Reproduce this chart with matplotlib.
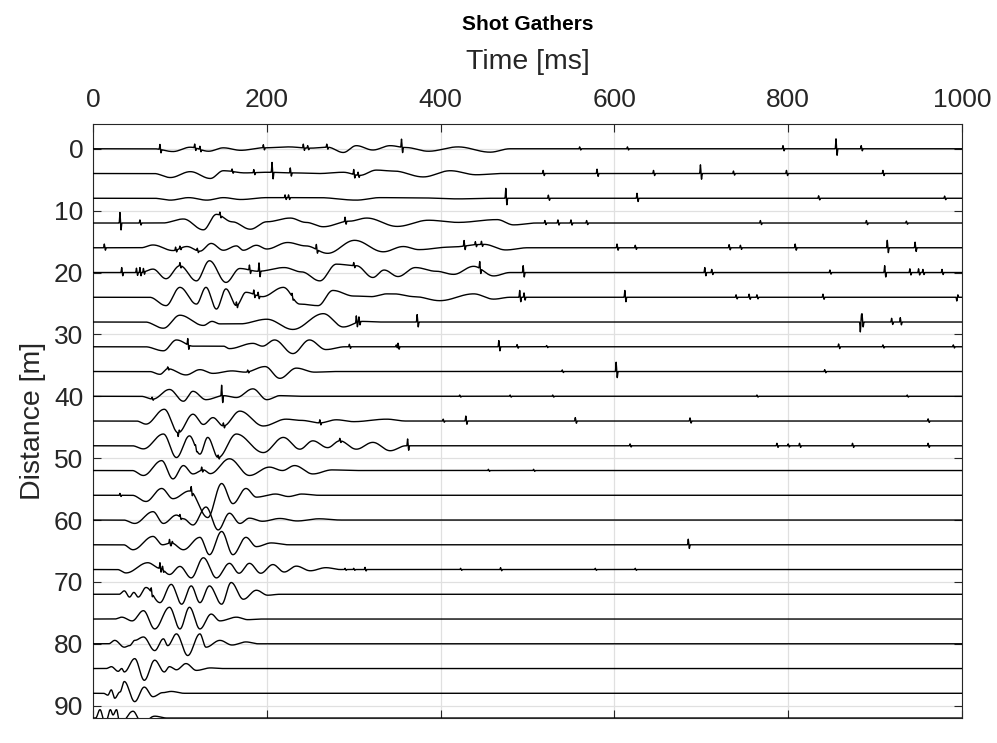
import numpy as np
import matplotlib
matplotlib.use("Agg")
import matplotlib.pyplot as plt

plt.rcParams['font.family'] = ['Liberation Sans', 'DejaVu Sans']

# receiver offsets [m]
distances = [0, 4, 8, 12, 16, 20, 24, 28, 32, 36, 40, 44,
             48, 52, 56, 60, 64, 68, 72, 76, 80, 84, 88, 92]

# smooth wave extrema per trace: (time ms, amplitude m, + is up on screen)
waves_00 = [(70, 0), (92, -0.45), (112, 0.25), (133, -0.4), (150, 0.15), (170, -0.25), (196, 0.15),
            (225, 0.3), (250, 0.1), (270, 0.25), (288, -0.6), (303, 0.5), (322, -0.2), (342, 0.5),
            (360, 0.2), (386, -0.4), (420, 0.3), (457, -0.55), (480, 0)]
waves_04 = [(70, 0), (89, -0.65), (112, 0.3), (135, -0.8), (150, 0.45), (175, 0.1), (200, 0.2),
            (230, 0.1), (260, 0), (288, 0.2), (307, -0.3), (326, 0.55), (346, 0.4), (380, -0.55),
            (411, 0.45), (441, -0.2), (470, 0)]
waves_08 = [(70, 0), (89, -0.3), (110, 0.1), (131, -0.3), (150, 0.1), (170, -0.2), (200, 0.1),
            (260, 0.1), (303, -0.3), (330, 0.1), (380, 0.05), (420, -0.1), (460, 0)]
waves_12 = [(80, 0), (104, 0.65), (127, -1.1), (142, 1.4), (160, 0.2), (181, -1.0), (200, 0.2),
            (227, 0.8), (245, 0.1), (265, -0.6), (295, 0.3), (315, 0.8), (350, -0.55), (386, 0.45),
            (420, 0.1), (465, 0.55), (484, -0.3), (510, 0)]
waves_16 = [(55, 0), (69, 0.45), (92, -0.45), (108, 0.2), (123, -0.55), (136, 0.7), (150, -0.4),
            (165, 0.3), (173, -0.4), (188, 0.4), (200, -0.2), (224, 0.85), (245, 0.3), (270, -0.9),
            (301, 1.2), (334, -0.65), (357, 0.2), (375, -0.3), (410, 0.1), (450, 0.55), (475, -0.35),
            (500, 0)]
waves_20 = [(55, 0), (69, 0.55), (84, -1.0), (100, 1.1), (119, -1.35), (134, 1.9), (153, -1.6),
            (169, 0.65), (190, 0.2), (220, 0.8), (240, 0.1), (261, -1.35), (280, 1.35), (303, 1.1),
            (322, -0.8), (335, 0.4), (351, -0.65), (371, 0.8), (395, 0.2), (415, -0.3), (438, 1.0),
            (461, -0.55), (480, 0)]
waves_24 = [(65, 0), (84, -1.35), (100, 1.6), (119, -1.1), (130, 1.6), (142, -1.9), (153, 1.35),
            (165, -1.35), (176, 0.8), (195, 0.1), (219, 1.6), (238, -1.1), (259, -1.35), (276, 1.1),
            (300, 0.2), (320, 0.1), (338, 0.55), (346, 0.55), (370, 0.1), (399, -0.55), (438, 0.55),
            (461, -0.3), (480, 0)]
waves_28 = [(60, 0), (81, -1.0), (100, 1.1), (127, -0.55), (137, 0.1), (146, -0.3), (169, -0.3),
            (200, 0.45), (230, -1.2), (265, 1.35), (288, -0.8), (310, 0.1), (330, 0)]
waves_32 = [(60, 0), (81, -0.65), (96, 1.1), (115, 0.1), (150, 0.1), (157, -0.3), (184, 0.55),
            (195, 0.1), (209, 1.1), (230, -1.1), (249, 1.1), (268, -0.45), (290, 0)]
waves_36 = [(65, 0), (77, -0.45), (86, 0.45), (107, -0.55), (123, 0.3), (138, -0.3), (160, 0.1),
            (175, -0.1), (198, 0.8), (215, -1.1), (234, 0.55), (255, -0.1), (280, 0)]
waves_40 = [(55, 0), (69, -0.45), (88, 1.1), (104, -0.8), (115, 0.8), (130, -0.55), (150, 0.1),
            (165, -0.2), (184, 1.2), (200, -0.55), (215, 0.1), (240, 0)]
waves_44 = [(50, 0), (61, -0.5), (82, 1.9), (98, -1.9), (115, 1.1), (127, -0.55), (138, 0.55),
            (150, -0.8), (169, 1.6), (196, -0.8), (222, 0.3), (240, 0.1), (261, -0.3), (280, 0.2),
            (300, -0.1), (338, 0.3), (360, 0)]
waves_48 = [(45, 0), (58, -0.5), (81, 1.9), (96, -1.9), (111, 1.6), (123, -1.35), (132, 1.35),
            (144, -1.9), (165, 1.9), (196, -1.1), (219, 1.35), (238, -0.55), (253, 0.8), (270, -0.3),
            (284, 0.8), (303, -0.55), (322, 0.55), (342, -0.8), (360, 0)]
waves_52 = [(45, 0), (58, -0.8), (79, 1.6), (92, -1.35), (104, 0.8), (115, -0.55), (127, 0.1),
            (135, -0.5), (157, 1.9), (180, -0.8), (203, 0.55), (218, 0), (232, 0.8), (253, -0.55),
            (275, 0.1), (300, 0)]
waves_56 = [(45, 0), (61, -1.0), (79, 1.1), (92, -0.55), (111, 0.7), (132, -3.6), (148, 1.9),
            (161, -1.35), (176, 1.1), (188, -0.3), (210, 0.2), (225, -0.2), (240, 0.2), (260, 0)]
waves_60 = [(35, 0), (48, -0.55), (69, 1.35), (81, -0.55), (96, 0.8), (104, 0.2), (115, -0.8),
            (130, 2.1), (144, -1.6), (157, 1.1), (169, -0.55), (180, 0.3), (195, -0.2), (215, 0.25),
            (235, -0.15), (260, 0.2), (285, 0)]
waves_64 = [(35, 0), (46, -0.8), (69, 1.35), (80, 0), (90, 0.3), (104, -0.8), (123, 1.2),
            (134, -1.6), (148, 2.15), (161, -1.6), (176, 1.2), (188, -0.3), (205, 0.3), (225, 0)]
waves_68 = [(28, 0), (38, -0.55), (63, 1.1), (77, 0.2), (88, -0.8), (100, 0.5), (113, -1.35),
            (127, 1.9), (142, -1.35), (157, 1.0), (168, -0.6), (180, 1.0), (193, -0.6), (207, 0.8),
            (220, -0.4), (234, 0.55), (250, -0.2), (268, 0.3), (285, 0)]
waves_72 = [(30, 0), (36, 0.55), (42, -0.45), (47, 0.3), (52, -0.45), (61, 1.1), (77, -1.35),
            (90, 1.6), (102, -1.6), (113, 1.35), (123, -1.35), (134, 1.35), (148, -1.6), (159, 1.9),
            (173, -0.8), (188, 0.65), (201, -0.15), (215, 0)]
waves_76 = [(25, 0), (33, 0.3), (45, -0.3), (58, 1.35), (71, -1.6), (88, 1.9), (100, -1.6),
            (111, 1.9), (123, -1.6), (136, 0.8), (146, -0.3), (165, 0.3), (178, -0.1), (195, 0)]
waves_80 = [(18, 0), (25, 0.55), (36, -0.55), (42, -0.3), (48, 0.55), (58, 1.1), (71, -1.1),
            (81, 0.8), (86, -0.3), (96, 1.6), (109, -1.9), (123, 1.6), (130, -0.55), (146, 0.55),
            (160, -0.2), (176, 0.3), (190, 0)]
waves_84 = [(15, 0), (21, 0.3), (29, -0.45), (33, 0), (36, -0.55), (48, 1.6), (59, -1.9),
            (71, 1.35), (82, -0.55), (88, 0.3), (96, -0.2), (107, 0.8), (119, -0.3), (135, 0.1),
            (150, 0)]
waves_88 = [(12, 0), (17, -0.3), (21, 0.55), (25, -0.8), (31, 0.2), (36, 1.9), (48, -1.35),
            (59, 1.0), (69, -0.55), (80, 0.1), (90, 0.3), (105, 0)]
waves_92 = [(3, 0), (8, 1.35), (14, -1.0), (20, 1.35), (23, 0.5), (27, 1.35), (31, -1.0),
            (46, 1.1), (56, -0.8), (71, 0.3), (85, 0)]

# spikes / short bursts per trace: (time ms, amplitude m)
spikes_00 = [(77, 0.8), (117, 0.6), (123, 0.5), (196, 0.5), (242, 0.6), (247, 0.4), (269, 0.5),
             (355, 1.3), (560, 0.3), (615, 0.3), (794, 0.5), (855, 1.6), (884, 0.5)]
spikes_04 = [(160, 0.4), (185, 0.5), (206, 1.6), (227, 0.8), (300, 0.8), (305, 0.5), (518, 0.5),
             (580, 0.7), (645, 0.5), (699, 1.4), (737, 0.4), (798, 0.5), (909, 0.5)]
spikes_08 = [(221, 0.45), (225, 0.45), (475, 1.6), (524, 0.5), (626, 0.8), (835, 0.4), (980, 0.35)]
spikes_12 = [(31, 1.7), (54, 0.5), (146, 0.5), (290, 0.7), (520, 0.4), (535, 0.5), (550, 0.5),
             (568, 0.4), (768, 0.4), (890, 0.4), (936, 0.3)]
spikes_16 = [(13, 0.6), (95, 0.5), (100, 0.4), (120, 0.4), (257, 0.8), (427, 0.9), (440, 0.5),
             (447, 0.5), (603, 0.6), (624, 0.4), (732, 0.5), (745, 0.4), (808, 0.6), (914, 1.2),
             (946, 0.9)]
spikes_20 = [(33, 0.8), (50, 0.7), (54, 0.8), (58, 0.6), (100, 0.5), (180, 0.8), (191, 1.35),
             (300, 0.5), (445, 1.1), (495, 1.1), (704, 0.8), (712, 0.5), (848, 0.4), (911, 1.1),
             (940, 0.6), (950, 0.6), (955, 0.5), (977, 0.5)]
spikes_24 = [(165, 0.6), (185, 0.7), (190, 0.6), (229, 0.5), (491, 1.1), (496, 0.7), (612, 1.1),
             (740, 0.4), (755, 0.5), (764, 0.4), (840, 0.5), (994, -0.6)]
spikes_28 = [(303, 1.1), (306, 0.8), (373, 1.2), (883, -1.6), (885, 1.2), (919, 0.6), (929, 0.7)]
spikes_32 = [(109, 1.0), (295, 0.4), (349, 0.3), (351, 0.6), (467, 1.0), (488, 0.35), (522, 0.2),
             (858, 0.45), (909, 0.3), (990, 0.3)]
spikes_36 = [(86, 0.3), (178, 0.3), (540, 0.25), (602, 1.5), (842, 0.3)]
spikes_40 = [(68, 0.3), (148, 1.7), (422, 0.2), (480, 0.2), (529, 0.2), (764, 0.2), (937, 0.2)]
spikes_44 = [(98, -0.6), (150, 0.5), (261, 0.5), (403, 0.3), (429, 0.8), (555, 0.55), (687, 0.5),
             (961, 0.35)]
spikes_48 = [(118, 0.4), (144, 0.4), (284, 0.4), (362, 1.1), (618, 0.3), (787, 0.4), (800, 0.3),
             (813, 0.4), (874, 0.4), (961, 0.4)]
spikes_52 = [(125, 0.5), (455, 0.2), (507, 0.2)]
spikes_56 = [(31, 0.3), (113, 0.8)]
spikes_60 = [(100, 0.4)]
spikes_64 = [(88, 0.6), (90, -0.4), (685, 0.9)]
spikes_68 = [(77, 0.9), (80, 0.5), (290, 0.2), (300, 0.2), (313, 0.35), (423, 0.2), (469, 0.3),
             (578, 0.2), (624, 0.2)]
spikes_72 = [(67, 0.7)]
spikes_76 = []
spikes_80 = []
spikes_84 = []
spikes_88 = []
spikes_92 = []

all_waves = [waves_00, waves_04, waves_08, waves_12, waves_16, waves_20, waves_24, waves_28,
             waves_32, waves_36, waves_40, waves_44, waves_48, waves_52, waves_56, waves_60,
             waves_64, waves_68, waves_72, waves_76, waves_80, waves_84, waves_88, waves_92]
all_spikes = [spikes_00, spikes_04, spikes_08, spikes_12, spikes_16, spikes_20, spikes_24,
              spikes_28, spikes_32, spikes_36, spikes_40, spikes_44, spikes_48, spikes_52,
              spikes_56, spikes_60, spikes_64, spikes_68, spikes_72, spikes_76, spikes_80,
              spikes_84, spikes_88, spikes_92]

t = np.arange(0, 1000.01, 0.25)


def trace_signal(waves, spikes):
    y = np.zeros_like(t)
    for (t0, a0), (t1, a1) in zip(waves[:-1], waves[1:]):
        m = (t >= t0) & (t <= t1)
        u = (t[m] - t0) / (t1 - t0)
        y[m] = a0 + (a1 - a0) * (1 - np.cos(np.pi * u)) / 2
    for ts, a in spikes:
        y += a * np.clip(1 - np.abs(t - ts) / 0.8, 0, None)
        y -= 0.7 * a * np.clip(1 - np.abs(t - ts - 1.3) / 0.8, 0, None)
    return y


fig = plt.figure(figsize=(9.97, 7.43), dpi=100)
ax = fig.add_axes([0.0933, 0.0336, 0.8716, 0.7995])

for d, w, s in zip(distances, all_waves, all_spikes):
    ax.plot(t, d - trace_signal(w, s), color='black', lw=1.0, zorder=3)

ax.set_xlim(0, 1000)
ax.set_ylim(92, -4)
ax.set_xticks(range(0, 1001, 200))
ax.set_yticks(range(0, 91, 10))
ax.grid(True, color='#e0e0e0', lw=0.9, zorder=0)
ax.set_axisbelow(True)

txt = '#262626'
ax.xaxis.tick_top()
ax.xaxis.set_label_position('top')
ax.tick_params(axis='both', direction='in', length=6, width=0.8, colors=txt,
               labelsize=19, top=True, bottom=True, left=True, right=True,
               labeltop=True, labelbottom=False)
ax.tick_params(axis='x', pad=9)
ax.tick_params(axis='y', pad=7)
for sp in ax.spines.values():
    sp.set_color(txt)
    sp.set_linewidth(0.8)

ax.set_xlabel('Time [ms]', fontsize=20.5, color=txt, labelpad=13)
ax.set_ylabel('Distance [m]', fontsize=20.5, color=txt, labelpad=6)
ax.set_title('Shot Gathers', fontsize=15, fontweight='bold', color='black', pad=14)

fig.savefig('out.png', dpi=100)
